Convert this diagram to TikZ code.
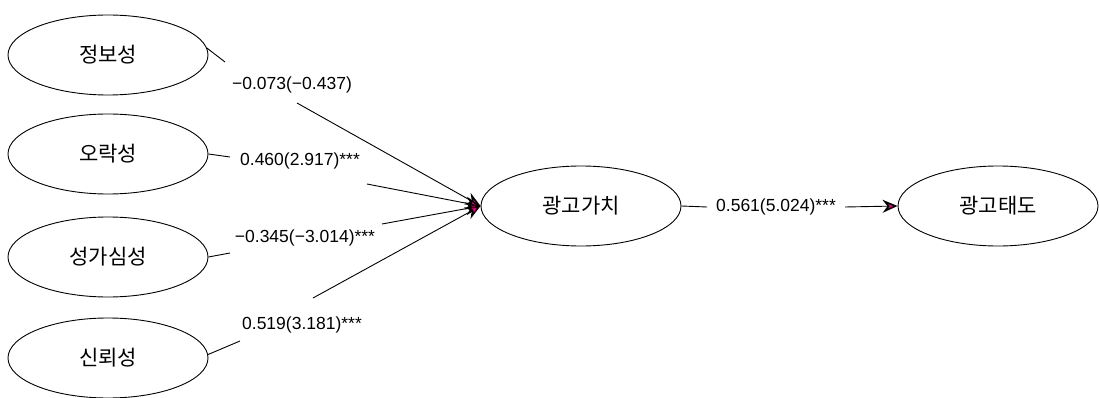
\documentclass[tikz,border=0pt]{standalone}
\usepackage{fontspec}
\setmainfont{Liberation Sans}
\newfontfamily\kr{Noto Sans CJK KR}
\usetikzlibrary{shapes.geometric,arrows.meta}
\tikzset{
  latent/.style={ellipse,draw=black,line width=0.9pt,minimum width=200pt,minimum height=80pt,inner sep=0pt,font=\kr\fontsize{21}{24}\selectfont},
  coef/.style={inner sep=0pt,font=\fontsize{17.5}{20}\selectfont},
  link/.style={draw=black,line width=0.9pt},
  arr/.style={link,-{Stealth[length=15pt,width=13pt,inset=5pt,fill=magenta,line width=1.6pt]}}
}
\begin{document}
\begin{tikzpicture}[x=1pt,y=-1pt]
\useasboundingbox (0,0) rectangle (1099,398);
\node[latent] (info) at (108,55) {정보성};
\node[latent] (fun) at (108,154) {오락성};
\node[latent] (ann) at (108,257) {성가심성};
\node[latent] (trust) at (108,358) {신뢰성};
\node[latent] (value) at (581,206) {광고가치};
\node[latent] (attit) at (998,206) {광고태도};

\node[coef] (l1) at (292,85) {−0.073(−0.437)};
\node[coef] (l2) at (300,161) {0.460(2.917)***};
\node[coef] (l3) at (305,238) {−0.345(−3.014)***};
\node[coef] (l4) at (302,325) {0.519(3.181)***};
\node[coef] (l5) at (776,207) {0.561(5.024)***};

\coordinate (a1) at (225,62);  \coordinate (b1) at (297,103);
\coordinate (a2) at (230,157); \coordinate (b2) at (367,184);
\coordinate (a3) at (230,253); \coordinate (b3) at (382,224);
\coordinate (a4) at (240,341); \coordinate (b4) at (313,298);
\coordinate (a5) at (707,207); \coordinate (b5) at (845,207);

\draw[link] (info.4) -- (a1);  \draw[arr] (b1) -- (value.west);
\draw[link] (fun.0) -- (a2);   \draw[arr] (b2) -- (value.west);
\draw[link] (ann.0) -- (a3);   \draw[arr] (b3) -- (value.west);
\draw[link] (trust.2) -- (a4); \draw[arr] (b4) -- (value.west);
\draw[link] (value.east) -- (a5); \draw[arr] (b5) -- (attit.west);
\end{tikzpicture}
\end{document}
